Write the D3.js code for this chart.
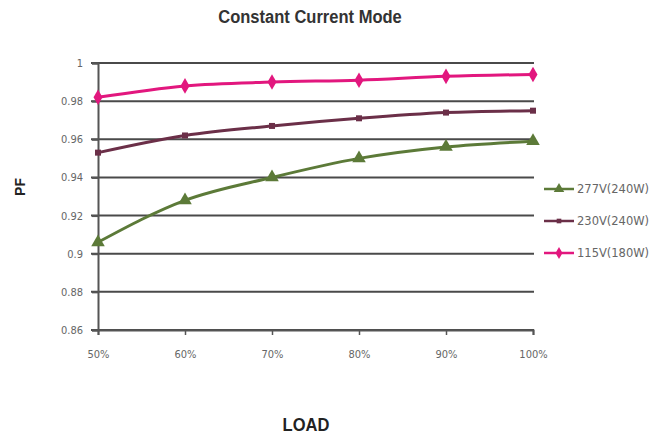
<!DOCTYPE html>
<html><head><meta charset="utf-8">
<script src="https://cdn.jsdelivr.net/npm/d3@7"></script>
<style>body{margin:0;background:#fff}</style>
</head><body>
<svg id="c" width="671" height="437"></svg>
<script>
const loads = ["50%","60%","70%","80%","90%","100%"];
const v277 = [0.906,0.928,0.940,0.950,0.956,0.959];
const v230 = [0.953,0.962,0.967,0.971,0.974,0.975];
const v115 = [0.982,0.988,0.990,0.991,0.993,0.994];
const yTicks = [0.86,0.88,0.9,0.92,0.94,0.96,0.98,1];
const seriesNames = ["277V(240W)","230V(240W)","115V(180W)"];

const series = [
  {name:seriesNames[0], values:v277, color:"#5c7a38", shape:d3.symbolTriangle, size:80},
  {name:seriesNames[1], values:v230, color:"#6b2f48", shape:d3.symbolSquare, size:36},
  {name:seriesNames[2], values:v115, color:"#e2177e", shape:d3.symbolDiamond, size:70}
];

const svg = d3.select("#c");
const x = d3.scalePoint().domain(loads).range([98,533]);
const y = d3.scaleLinear().domain([0.86,1]).range([330,63]);
const tickFont = "DejaVu Sans Condensed, DejaVu Sans, sans-serif";

// gridlines
svg.append("g").selectAll("line").data(yTicks).join("line")
  .attr("x1",91).attr("x2",534).attr("y1",d=>y(d)).attr("y2",d=>y(d))
  .attr("stroke","#4a4a4a").attr("stroke-width",2);

// y axis
const ya = svg.append("g").attr("transform","translate(98,0)")
  .call(d3.axisLeft(y).tickValues(yTicks).tickFormat(d=>String(+d.toFixed(2))).tickSize(6).tickPadding(9));
ya.select(".domain").attr("stroke","#555").attr("stroke-width",2);
ya.selectAll(".tick line").attr("stroke","#555").attr("stroke-width",2);
ya.selectAll("text").attr("fill","#666").style("font-family",tickFont).style("font-size","11px");

// x axis
const xa = svg.append("g").attr("transform","translate(0,330)")
  .call(d3.axisBottom(x).tickSize(5).tickPadding(15));
xa.select(".domain").attr("stroke","#555").attr("stroke-width",2);
xa.selectAll(".tick line").attr("stroke","#555").attr("stroke-width",1.5);
xa.selectAll("text").attr("fill","#666").style("font-family",tickFont).style("font-size","11px");

// lines
const line = d3.line().x((d,i)=>x(loads[i])).y(d=>y(d)).curve(d3.curveMonotoneX);
series.forEach(s=>{
  svg.append("path").datum(s.values).attr("d",line)
    .attr("fill","none").attr("stroke",s.color).attr("stroke-width",3);
  svg.append("g").selectAll("path").data(s.values).join("path")
    .attr("d",d3.symbol().type(s.shape).size(s.size))
    .attr("transform",(d,i)=>`translate(${x(loads[i])},${y(d)})`)
    .attr("fill",s.color);
});

// legend
const leg = svg.append("g");
series.forEach((s,i)=>{
  const ly = 189 + i*32;
  leg.append("line").attr("x1",544).attr("x2",574).attr("y1",ly).attr("y2",ly)
    .attr("stroke",s.color).attr("stroke-width",2.5);
  leg.append("path").attr("d",d3.symbol().type(s.shape).size(s.size*0.6))
    .attr("transform",`translate(559,${ly})`).attr("fill",s.color);
  leg.append("text").attr("x",577).attr("y",ly+4).text(s.name)
    .attr("fill","#666").style("font-family","DejaVu Sans, sans-serif").style("font-size","11.5px");
});

// titles
svg.append("text").attr("transform","translate(310,23) scale(0.87,1)").attr("text-anchor","middle")
  .text("Constant Current Mode").attr("fill","#333")
  .style("font-family","Liberation Sans, Arial, sans-serif").style("font-weight","bold").style("font-size","19px");
svg.append("text").attr("transform","translate(25,187) rotate(-90)").attr("text-anchor","middle")
  .text("PF").attr("fill","#222")
  .style("font-family","Liberation Sans, sans-serif").style("font-weight","bold").style("font-size","14px");
svg.append("text").attr("transform","translate(306,431) scale(0.87,1)").attr("text-anchor","middle")
  .text("LOAD").attr("fill","#222")
  .style("font-family","Liberation Sans, sans-serif").style("font-weight","bold").style("font-size","19px");
</script>
</body></html>
